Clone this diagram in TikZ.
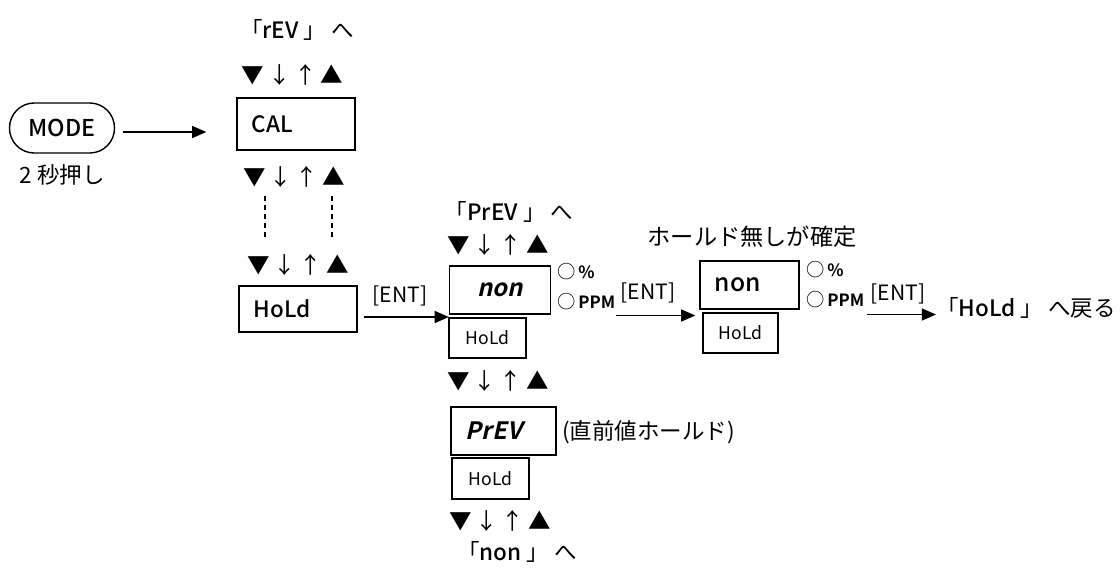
\documentclass[tikz,border=0pt]{standalone}
\usepackage{fontspec}
\setmainfont{Noto Sans CJK JP}[BoldFont={Noto Sans CJK JP Medium}]
\newfontfamily\segfont[FakeSlant=0.22]{Noto Sans CJK JP Bold}
\newfontfamily\lampfont{Noto Sans CJK JP Bold}
\usetikzlibrary{positioning,arrows.meta}
\newcommand\pu{0.025cm}
\newcommand\updown{▼\,↓\,↑\,▲}
\newcommand\lampmark[1]{{\fontsize{13}{13}\selectfont\mdseries ○}\,{\lampfont #1}}

\begin{document}
\begin{tikzpicture}[x=\pu,y=-\pu,>={Triangle[length=10pt,width=8.5pt]},
     every node/.style={font=\fontsize{16}{19}\selectfont,inner sep=0pt},
     disp/.style={rectangle,draw,line width=1pt,inner xsep=0.375cm,align=left},
     sub/.style={rectangle,draw,line width=1pt,font=\fontsize{12.5}{15}\selectfont},
     lamp/.style={anchor=west,font=\fontsize{12}{13}\selectfont},
     knopf/.style={rectangle,draw,line width=1pt,rounded corners=0.62cm,
                   minimum width=2.625cm,minimum height=1.25cm,font=\fontsize{16.5}{19}\selectfont\bfseries},
     note/.style={font=\fontsize{15}{18}\selectfont}]
\useasboundingbox (0,0) rectangle (1120,568);
%% MODE key and first menu
  \node [knopf] (mode) at (62,128) {MODE};
  \node (sec) at (62,175) {2 秒押し};
  \node (torev) at (297,30) {「\textbf{rEV} 」\ へ};
  \node (k1) at (292.5,75) {\updown};
  \node [disp,text width=2.2cm,minimum height=1.3cm,font=\fontsize{16}{19}\selectfont\bfseries] (cal) at (296,124) {CAL};
  \node (k2) at (294,177) {\updown};
  \node (k3) at (298,265) {\updown};
  \node [disp,text width=2.2cm,minimum height=1.15cm,font=\fontsize{16}{19}\selectfont\bfseries] (hold) at (298,309) {HoLd};
  \path ([shift={(8,4)}]mode.east) coordinate (a0);
  \draw[->,line width=1pt] (a0) -- ([xshift=-30*\pu]a0 -| cal.west);
  \draw[dashed,line width=1pt,dash pattern=on 3.5pt off 3pt] ([shift={(-29,8)}]k2.south) -- ++(0,45);
  \draw[dashed,line width=1pt,dash pattern=on 3.5pt off 3pt] ([shift={(38,8)}]k2.south) -- ++(0,45);
%% hold selection
  \node (toprev) at (509,212) {「\textbf{PrEV} 」\ へ};
  \node (k4) at (498,245) {\updown};
  \node [disp,align=center,text width=1.775cm,minimum height=1.2cm,font=\fontsize{17}{19}\selectfont] (non1) at (500,290) {\segfont non};
  \node [sub,minimum width=1.925cm,minimum height=1cm] (hsm1) at (487.5,338) {HoLd};
  \node [lamp] (pct1) at (557,272) {\lampmark{\%}};
  \node [lamp] (ppm1) at (557,302) {\lampmark{PPM}};
  \node [note] (ent1) at (400,296) {[ENT]};
  \path ([shift={(6,8)}]hold.east) coordinate (a1);
  \draw[->,line width=1pt] (a1) -- (a1 -| non1.west);
  \node (k5) at (498,381) {\updown};
  \node [disp,text width=1.875cm,minimum height=1.2cm,font=\fontsize{17}{19}\selectfont] (prev) at (503.5,431) {\segfont PrEV};
  \node [anchor=west] (prevnote) at (562,432) {(直前値ホールド)};
  \node [sub,minimum width=1.925cm,minimum height=1.025cm] (hsm3) at (490.5,478.5) {HoLd};
  \node (k6) at (500,521) {\updown};
  \node (tonon) at (517,552) {「\textbf{non} 」\ へ};
%% confirmed
  \node [font=\fontsize{16.5}{19}\selectfont] (fixed) at (752,237) {ホールド無しが確定};
  \node [disp,text width=1.725cm,minimum height=1.2cm,font=\fontsize{17.5}{19}\selectfont\bfseries] (non2) at (749.5,285) {non};
  \node [sub,minimum width=1.875cm,minimum height=1cm] (hsm2) at (740.5,333) {HoLd};
  \node [lamp] (pct2) at (806,270) {\lampmark{\%}};
  \node [lamp] (ppm2) at (806,300) {\lampmark{PPM}};
  \node [note] (ent2) at (648,293) {[ENT]};
  \path ([shift={(0,5)}]ppm1.south east) coordinate (a2);
  \draw[->,line width=1pt] (a2) -- ([xshift=-4*\pu]a2 -| non2.west);
  \node [note] (ent3) at (898,294) {[ENT]};
  \node [anchor=east] (back) at (1116,308) {「\textbf{HoLd} 」\ へ戻る};
  \path ([shift={(2,6)}]ppm2.south east) coordinate (a3);
  \draw[->,line width=1pt] (a3) -- (a3 -| back.west);
\end{tikzpicture}
\end{document}
